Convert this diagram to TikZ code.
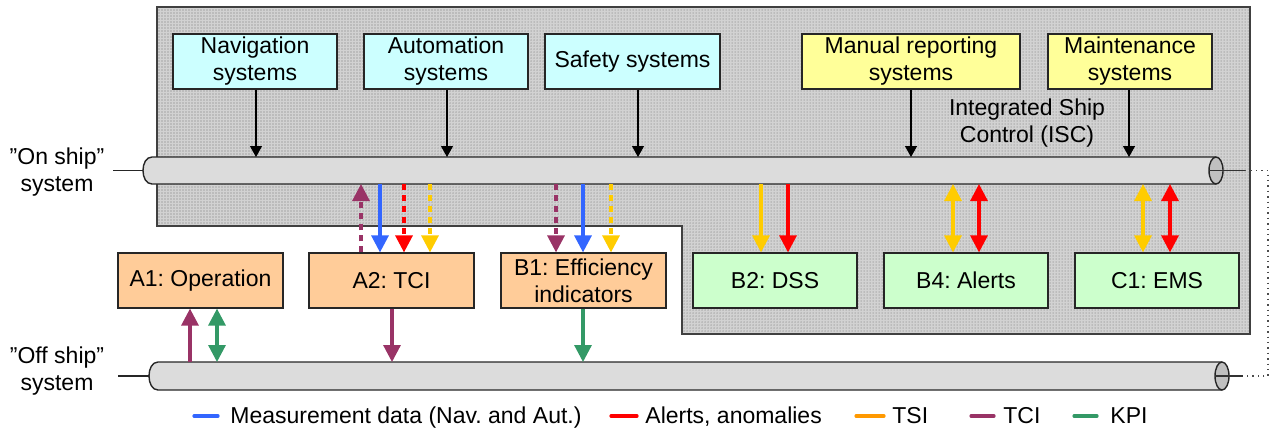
\documentclass[tikz,border=0pt]{standalone}
\usepackage{fontspec}
\setmainfont{Liberation Sans}
\usetikzlibrary{arrows.meta,patterns.meta}
\definecolor{cyanbox}{HTML}{CCFFFF}
\definecolor{yelbox}{HTML}{FFFF99}
\definecolor{orbox}{HTML}{FFCC99}
\definecolor{grbox}{HTML}{CCFFCC}
\definecolor{cblue}{HTML}{3366FF}
\definecolor{cred}{HTML}{FF0000}
\definecolor{cgold}{HTML}{FFCC00}
\definecolor{corange}{HTML}{FF9900}
\definecolor{cpurple}{HTML}{993366}
\definecolor{cgreen}{HTML}{339966}
\definecolor{iscbg}{HTML}{D2D2D2}
\definecolor{iscdot}{HTML}{A6A6A6}
\definecolor{pipefill}{HTML}{DCDCDC}
\definecolor{pipeend}{HTML}{C0C0C0}
\frenchspacing
\begin{document}
\frenchspacing
\begin{tikzpicture}[x=0.5pt,y=-0.5pt,
  txt/.style={font=\fontsize{11.5}{13.5}\selectfont\frenchspacing, inner sep=0pt, align=center},
  box/.style={txt, draw=black!85, line width=0.6pt, minimum height=27.5pt},
  topbox/.style={box, fill=cyanbox, minimum width=82pt},
  manbox/.style={box, fill=yelbox, minimum width=82pt},
  orgbox/.style={box, fill=orbox, minimum width=82.5pt},
  grnbox/.style={box, fill=grbox, minimum width=82pt},
  blk/.style={line width=0.6pt, -{Triangle[length=5.5pt,width=6pt]}},
  col/.style={line width=1.6pt, -{Triangle[length=8.5pt,width=8.5pt]}},
  dcol/.style={line width=1.6pt, {Triangle[length=8.5pt,width=8.5pt]}-{Triangle[length=8.5pt,width=8.5pt]}},
  dsh/.style={dash pattern=on 3pt off 2.5pt},
  leg/.style={line width=1.6pt, line cap=round},
  pipe/.style={fill=pipefill, draw=black!85, line width=0.7pt},
  conn/.style={draw=black!70, line width=0.6pt}
]
\useasboundingbox (0,0) rectangle (1273,430);

% ISC region
\fill[iscbg] (157,7) -- (1250,7) -- (1250,334) -- (682,334) -- (682,226) -- (157,226) -- cycle;
\fill[pattern={Dots[radius=0.38pt,distance=1.5pt]}, pattern color=iscdot] (157,7) -- (1250,7) -- (1250,334) -- (682,334) -- (682,226) -- (157,226) -- cycle;
\draw[black!75, line width=0.8pt] (157,7) -- (1250,7) -- (1250,334) -- (682,334) -- (682,226) -- (157,226) -- cycle;

% top boxes
\node[topbox] (nav) at (255,61.5) {Navigation\\systems};
\node[topbox] (aut) at (446,61.5) {Automation\\systems};
\node[topbox, minimum width=87.5pt] (saf) at (632.5,61.5) {Safety systems};
\node[manbox, minimum width=109pt] (man) at (911,61.5) {Manual reporting\\systems};
\node[manbox] (mnt) at (1130,61.5) {Maintenance\\systems};
\node[txt] (isc) at (1027,123.5) {Integrated Ship\\Control (ISC)};

% side labels
\node[txt] (onship) at (57,172) {”On ship”\\system};
\node[txt] (offship) at (57,371) {”Off ship”\\system};

% upper pipe
\draw[conn, black!85] (113,170.5) -- (143,170.5);
\path[pipe] (1216,157) -- (152,157) .. controls (140,157) and (140,184) .. (152,184) -- (1216,184);
\filldraw[fill=pipeend, draw=black!85, line width=0.7pt] (1216,170.5) ellipse [x radius=7, y radius=13.5];
\coordinate (upT) at (0,157);
\coordinate (upB) at (0,184);

% lower pipe
\draw[conn, black!85] (118,376) -- (149,376);
\path[pipe] (1222,362) -- (158,362) .. controls (146,362) and (146,390) .. (158,390) -- (1222,390);
\filldraw[fill=pipeend, draw=black!85, line width=0.7pt] (1222,376) ellipse [x radius=7, y radius=14];
\coordinate (loT) at (0,362);

% dotted link between pipes
\coordinate (e1) at (1209,170.5);
\coordinate (e2) at (1215,376);
\coordinate (c1) at (1268,170.5);
\coordinate (c2) at (1268,376);
\draw[black!80, line width=0.6pt] (e1) -- (1245,170.5);
\draw[black!80, line width=0.6pt] (e2) -- (1243,376);
\draw[black!70, line width=0.7pt, dotted] (1245,170.5) -- (c1) -- (c2) -- (1243,376);

% lower boxes
\node[orgbox] (a1) at (200.5,280.5) {A1: Operation};
\node[orgbox] (a2) at (391.5,280.5) {A2: TCI};
\node[orgbox] (b1) at (583.5,280.5) {B1: Efficiency\\indicators};
\node[grnbox] (b2) at (775,280.5) {B2: DSS};
\node[grnbox] (b4) at (966,280.5) {B4: Alerts};
\node[grnbox] (c1b) at (1157,280.5) {C1: EMS};

% black arrows into upper pipe
\draw[blk] (nav.south -| 256,0) -- (256,0 |- upT);
\draw[blk] (aut.south -| 447,0) -- (447,0 |- upT);
\draw[blk] (saf.south -| 638,0) -- (638,0 |- upT);
\draw[blk] (man.south) -- (man.south |- upT);
\draw[blk] (mnt.south -| 1129,0) -- (1129,0 |- upT);

% A2 arrows
\draw[col, cpurple, dsh] (a2.north -| 361,0) -- (361,0 |- upB);
\draw[col, cblue] (380,0 |- upB) -- (a2.north -| 380,0);
\draw[col, cred, dsh] (404,0 |- upB) -- (a2.north -| 404,0);
\draw[col, cgold, dsh] (430,0 |- upB) -- (a2.north -| 430,0);
% B1 arrows
\draw[col, cpurple, dsh] (556,0 |- upB) -- (b1.north -| 556,0);
\draw[col, cblue] (583,0 |- upB) -- (b1.north -| 583,0);
\draw[col, cgold, dsh] (611,0 |- upB) -- (b1.north -| 611,0);
% B2
\draw[col, cgold] (761,0 |- upB) -- (b2.north -| 761,0);
\draw[col, cred] (788,0 |- upB) -- (b2.north -| 788,0);
% B4
\draw[dcol, cgold] (953,0 |- upB) -- (b4.north -| 953,0);
\draw[dcol, cred] (979,0 |- upB) -- (b4.north -| 979,0);
% C1
\draw[dcol, cgold] (1143,0 |- upB) -- (c1b.north -| 1143,0);
\draw[dcol, cred] (1170,0 |- upB) -- (c1b.north -| 1170,0);

% to lower pipe
\draw[col, cpurple] (190,0 |- loT) -- (a1.south -| 190,0);
\draw[dcol, cgreen] (217,0 |- loT) -- (a1.south -| 217,0);
\draw[col, cpurple] (a2.south -| 392,0) -- (392,0 |- loT);
\draw[col, cgreen] (b1.south -| 583,0) -- (583,0 |- loT);

% legend
\draw[leg, cblue] (194,416) -- (218,416);
\node[txt, anchor=base west] (l1) at (230,423) {Measurement data (Nav. and Aut.)};
\draw[leg, cred] (611,416) -- (637,416);
\node[txt, anchor=base west] (l2) at (645,423) {Alerts, anomalies};
\draw[leg, corange] (856,416) -- (884,416);
\node[txt, anchor=base west] (l3) at (892,423) {TSI};
\draw[leg, cpurple] (971,416) -- (994,416);
\node[txt, anchor=base west] (l4) at (1003,423) {TCI};
\draw[leg, cgreen] (1074,416) -- (1097,416);
\node[txt, anchor=base west] (l5) at (1110,423) {KPI};
\end{tikzpicture}
\end{document}
